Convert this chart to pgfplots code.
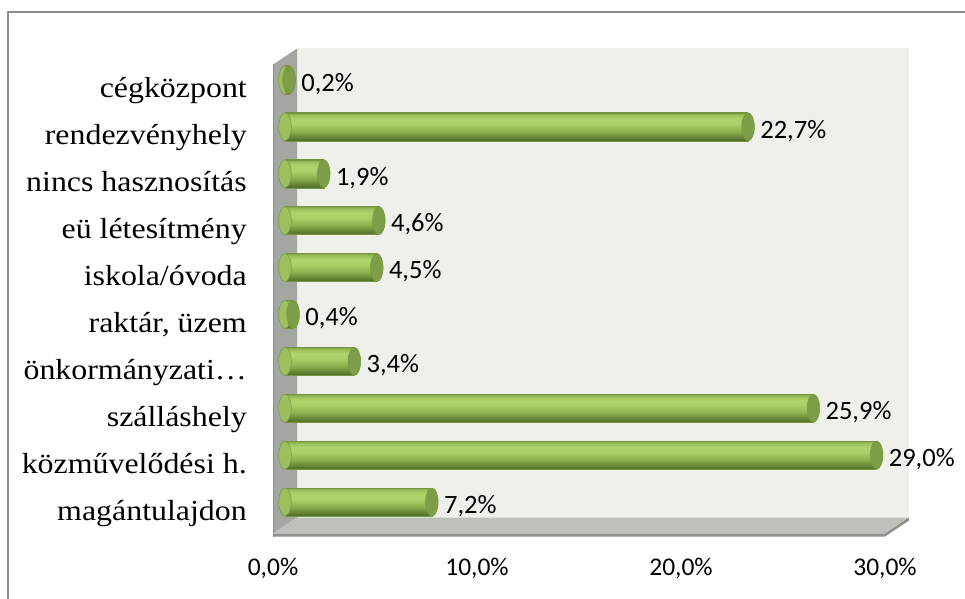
\documentclass[border=0pt]{standalone}
\usepackage{fontspec}
\setmainfont{Liberation Serif}[FakeStretch=1.1]
\newfontfamily\valfont{Carlito}
\usepackage{pgfplots}
\pgfplotsset{compat=1.18}
\definecolor{wallc}{HTML}{EEF0E9}
\definecolor{sidec}{HTML}{A4A6A2}
\definecolor{sideedge}{HTML}{8A8C88}
\definecolor{floorc}{HTML}{BEC0BA}
\definecolor{flooredge}{HTML}{8E908C}
\definecolor{bordc}{HTML}{8C8C8C}
\definecolor{barline}{HTML}{76963F}
\definecolor{capc}{HTML}{7E9D48}
\definecolor{lcapc}{HTML}{9DC05C}
\pgfdeclareverticalshading{cylsh}{100bp}{%
  color(0bp)=(rgb,255:red,78;green,104;blue,40);
  color(25bp)=(rgb,255:red,78;green,104;blue,40);
  color(30bp)=(rgb,255:red,96;green,126;blue,50);
  color(42bp)=(rgb,255:red,140;green,176;blue,78);
  color(55bp)=(rgb,255:red,172;green,208;blue,104);
  color(64bp)=(rgb,255:red,176;green,212;blue,108);
  color(72bp)=(rgb,255:red,152;green,188;blue,88);
  color(75bp)=(rgb,255:red,128;green,160;blue,70);
  color(100bp)=(rgb,255:red,128;green,160;blue,70)}
\pgfplotsset{cyl/.style={xbar, bar width=28pt, bar shift=0pt, draw=barline, line width=0.5pt,
  shade, shading=cylsh, shading angle=0}}
\begin{document}
\begin{tikzpicture}[x=1pt,y=1pt]
\useasboundingbox (0,0) rectangle (965,598);
\fill[white] (0,0) rectangle (965,598);
\draw[line width=2pt, color=bordc] (8,-10) -- (8,586) -- (975,586);
% back wall
\fill[wallc] (297,80.5) rectangle (909,549.5);
% side wall
\fill[sidec] (273,64.5) -- (297,80.5) -- (297,549.5) -- (273,533.5) -- cycle;
\draw[sideedge, line width=1.5pt] (273.7,61.5) -- (273.7,533.5);
% floor
\fill[floorc] (273,64.5) -- (885,64.5) -- (909,80.5) -- (297,80.5) -- cycle;
\fill[flooredge] (273,61.5) -- (885,61.5) -- (909,77.5) -- (909,80.5) -- (885,64.5) -- (273,64.5) -- cycle;
\begin{axis}[
  at={(285pt,72.5pt)}, anchor=south west,
  scale only axis, width=612pt, height=469pt,
  xmin=0, xmax=30, ymin=-0.5, ymax=9.5,
  clip=false,
  axis line style={draw=none},
  tick style={draw=none},
  major tick length=0pt,
  xtick={0,10,20,30},
  xticklabels={{0,0\%},{10,0\%},{20,0\%},{30,0\%}},
  ytick={0,1,2,3,4,5,6,7,8,9},
  yticklabels={magántulajdon,közművelődési h.,szálláshely,önkormányzati…,{raktár, üzem},iskola/óvoda,eü létesítmény,nincs hasznosítás,rendezvényhely,cégközpont},
  xticklabel style={font=\valfont\fontsize{25.5}{30}\selectfont, anchor=base, xshift=-12pt, yshift=-49.5pt, inner sep=0pt},
  yticklabel style={font=\fontsize{29}{34}\selectfont, anchor=base east, xshift=-38pt, yshift=-18pt, inner sep=0pt},
]
% left caps (rounded back end of cylinders)
\addplot[only marks, mark=*, mark size=14pt,
  mark options={xscale=0.45, draw=barline, line width=0.5pt, fill=lcapc}]
  coordinates {(0,0) (0,1) (0,2) (0,3) (0,4) (0,5) (0,6) (0,7) (0,8) (0,9)};
% bars, one path each so that each cylinder gets its own shading
\addplot[cyl] coordinates {(7.2,0)};
\addplot[cyl] coordinates {(29.0,1)};
\addplot[cyl] coordinates {(25.9,2)};
\addplot[cyl] coordinates {(3.4,3)};
\addplot[cyl] coordinates {(0.4,4)};
\addplot[cyl] coordinates {(4.5,5)};
\addplot[cyl] coordinates {(4.6,6)};
\addplot[cyl] coordinates {(1.9,7)};
\addplot[cyl] coordinates {(22.7,8)};
\addplot[cyl] coordinates {(0.2,9)};
% right caps with value labels
\addplot[only marks, mark=*, mark size=14pt,
  mark options={xscale=0.45, fill=capc, draw=barline, line width=0.5pt},
  point meta=explicit,
  nodes near coords={\pgfmathprintnumber[fixed,fixed zerofill,precision=1,use comma,assume math mode=true]{\pgfplotspointmeta}\%},
  every node near coord/.append style={font=\valfont\fontsize{26.5}{31}\selectfont, anchor=west, inner sep=2pt, xshift=10pt, yshift=-4pt, text=black}]
  coordinates {(7.2,0)[7.2] (29.0,1)[29.0] (25.9,2)[25.9] (3.4,3)[3.4] (0.4,4)[0.4] (4.5,5)[4.5] (4.6,6)[4.6] (1.9,7)[1.9] (22.7,8)[22.7] (0.2,9)[0.2]};
\end{axis}
\end{tikzpicture}
\end{document}
